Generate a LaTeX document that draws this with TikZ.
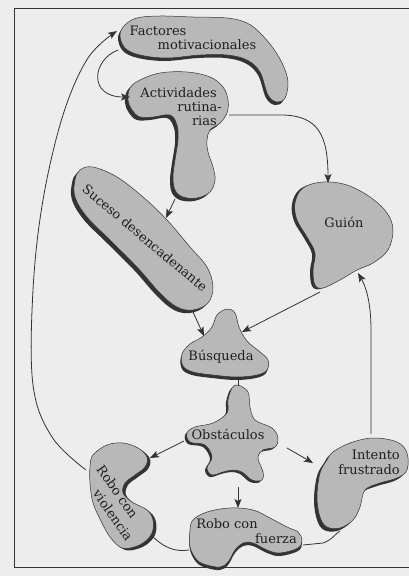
\documentclass[tikz,border=0pt]{standalone}
\usepackage{fontspec}
\setmainfont{DejaVu Serif}
\usetikzlibrary{arrows.meta}

\definecolor{paper}{gray}{0.93}
\definecolor{blobgray}{gray}{0.72}
\definecolor{inkgray}{gray}{0.2}
\definecolor{textgray}{gray}{0.12}

\tikzset{
  blobfill/.style={fill=blobgray,draw=inkgray,line width=0.5pt},
  blobshadow/.style={fill=inkgray},
  blobtext/.style={text=textgray,font=\fontsize{13}{14.5}\selectfont,inner sep=0pt},
  link/.style={draw=inkgray,line width=0.8pt,-{Stealth[length=9pt,width=7pt,inset=2pt]}},
  plainlink/.style={draw=inkgray,line width=0.8pt},
}

% #1 shadow shift, #2 outline points
\newcommand{\blob}[2]{%
  \fill[blobshadow,shift={#1}] plot[smooth cycle,tension=0.6] coordinates {#2};
  \path[blobfill] plot[smooth cycle,tension=0.6] coordinates {#2};}

\begin{document}
\begin{tikzpicture}[x=1pt,y=-1pt]
  \useasboundingbox (0,0) rectangle (409,576);
  \fill[paper] (0,0) rectangle (409,576);
  \draw[inkgray,line width=0.6pt] (409,8) -- (14,8) -- (14,567) -- (409,567);

  % blobs
  \blob{(-2,3)}{(120,35) (125,25) (137,18) (160,16) (193,17) (227,18) (247,23) (260,33) (273,48) (283,65) (288,82) (285,98) (277,102) (268,95) (260,72) (247,60) (227,55) (200,55) (167,58) (140,55) (125,48)}
  \blob{(-3,3)}{(128,100) (130,88) (140,80) (160,73) (187,72) (210,77) (223,87) (228,100) (227,113) (220,123) (210,130) (207,140) (208,152) (213,167) (215,180) (210,192) (197,198) (183,197) (175,190) (173,177) (175,160) (178,140) (177,125) (170,115) (153,117) (140,117) (132,110)}
  \blob{(-3,3)}{(80,170) (93,167) (117,177) (143,197) (167,220) (190,247) (207,267) (213,287) (208,303) (193,310) (177,307) (160,293) (137,267) (110,240) (87,217) (75,197) (75,180)}
  \blob{(-3,1)}{(303,188) (323,182) (347,185) (370,197) (387,213) (393,230) (388,250) (373,263) (357,270) (340,280) (323,288) (315,285) (313,270) (315,253) (307,237) (297,220) (295,203)}
  \blob{(-1,3)}{(217,315) (227,309) (235,313) (239,327) (247,341) (260,352) (268,360) (267,370) (257,375) (237,377) (213,375) (193,372) (183,366) (182,354) (190,344) (202,337) (212,327)}
  \blob{(-2,2)}{(238,385) (248,392) (250,407) (255,420) (272,428) (278,438) (275,447) (263,450) (258,458) (263,472) (262,480) (252,480) (242,472) (233,470) (223,472) (212,475) (207,468) (212,457) (205,445) (190,442) (187,433) (195,427) (213,423) (227,413) (228,400) (232,388)}
  \blob{(3,2)}{(93,455) (107,445) (123,443) (138,448) (147,457) (145,467) (135,475) (125,483) (123,493) (132,502) (147,510) (153,520) (152,533) (143,543) (130,548) (120,547) (110,537) (102,523) (93,503) (90,483) (90,467)}
  \blob{(0,3)}{(193,520) (207,512) (230,508) (253,510) (270,518) (287,527) (298,532) (302,540) (298,548) (280,553) (267,550) (253,543) (243,543) (235,550) (228,562) (220,567) (207,565) (197,560) (190,547) (190,530)}
  \blob{(-3,3)}{(333,452) (350,443) (373,438) (397,442) (407,453) (407,470) (397,478) (380,483) (365,490) (360,507) (353,520) (340,528) (327,527) (320,517) (317,497) (320,473) (327,460)}

  % texts
  \node[blobtext,anchor=base] (fac-a) at (158,35) {Factores};
  \node[blobtext,anchor=base] (fac-b) at (207,49) {motivacionales};
  \node[blobtext,anchor=base east] (act-a) at (217,97) {Actividades};
  \node[blobtext,anchor=base east] (act-b) at (222,111) {rutina-};
  \node[blobtext,anchor=base east] (act-c) at (217,125) {rias};
  \node[blobtext,rotate=-40] (suc) at (145,238) {Suceso desencadenante};
  \node[blobtext] (gui) at (344,222) {Guión};
  \node[blobtext,anchor=base] (bus) at (221,360) {Búsqueda};
  \node[blobtext] (obs) at (228,434) {Obstáculos};
  \node[blobtext,rotate=-55,align=left,font=\fontsize{13}{17}\selectfont] (rcv) at (115,503) {Robo con\\\hspace*{18pt}violencia};
  \node[blobtext,anchor=base] (rcf-a) at (227,528) {Robo con};
  \node[blobtext,anchor=base] (rcf-b) at (276,543) {fuerza};
  \node[blobtext,anchor=base east] (int-a) at (400,459) {Intento};
  \node[blobtext,anchor=base east] (int-b) at (400,474) {frustrado};

  % connector ends
  \coordinate (fac-w) at (117,31);
  \coordinate (fac-sw) at (118,50);
  \coordinate (act-w) at (130,97);
  \coordinate (act-e) at (229,115);
  \coordinate (act-s) at (175,199);
  \coordinate (suc-ne) at (166,218);
  \coordinate (suc-s) at (193,312);
  \coordinate (gui-n) at (328,183);
  \coordinate (gui-sw) at (320,292);
  \coordinate (gui-se) at (358,273);
  \coordinate (bus-nw) at (204,336);
  \coordinate (bus-ne) at (242,332);
  \coordinate (bus-s) at (238,378);
  \coordinate (obs-n) at (238,386);
  \coordinate (obs-w) at (184,441);
  \coordinate (obs-s) at (238,487);
  \coordinate (obs-e) at (287,448);
  \coordinate (rcv-nw) at (86,470);
  \coordinate (rcv-ne) at (150,458);
  \coordinate (rcv-se) at (153,537);
  \coordinate (rcf-n) at (238,508);
  \coordinate (rcf-w) at (189,550);
  \coordinate (rcf-e) at (303,545);
  \coordinate (int-w) at (313,463);
  \coordinate (int-n) at (371,434);
  \coordinate (int-s) at (340,531);

  % connectors
  \draw[link] plot[smooth,tension=0.6] coordinates {(rcv-nw) (52,437) (33,385) (33,290) (43,200) (63,115) (88,58) (fac-w)};
  \draw[link] (fac-sw) .. controls (92,60) and (88,97) .. (act-w);
  \draw[link] (act-e) -- (283,115) .. controls (318,116) and (328,135) .. (gui-n);
  \draw[link] (act-s) -- (suc-ne);
  \draw[link] (suc-s) -- (bus-nw);
  \draw[link] (gui-sw) -- (bus-ne);
  \draw[plainlink] (bus-s) -- (obs-n);
  \draw[link] (obs-w) -- (rcv-ne);
  \draw[link] (obs-s) -- (rcf-n);
  \draw[link] (obs-e) -- (int-w);
  \draw[link] (int-n) -- (371,330) .. controls (371,300) and (365,285) .. (gui-se);
  \draw[plainlink] (rcv-se) .. controls (165,548) and (175,552) .. (rcf-w);
  \draw[plainlink] (rcf-e) -- (323,543) .. controls (332,540) and (335,534) .. (int-s);
\end{tikzpicture}
\end{document}
